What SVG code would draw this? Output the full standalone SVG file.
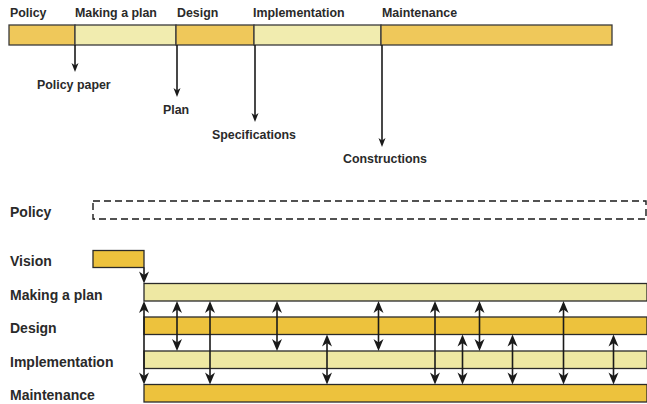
<svg xmlns="http://www.w3.org/2000/svg" xmlns:xlink="http://www.w3.org/1999/xlink" width="647" height="404" viewBox="0 0 647 404">
<defs>
<style>
text{font-family:"Liberation Sans",Arial,sans-serif;font-weight:bold;fill:#2a2a2a}
.t{font-size:12.4px}
.b{font-size:14px}
.or{fill:#EDC23D;stroke:#2a2a2a;stroke-width:1.3}
.lt{fill:#EEE8A3;stroke:#2a2a2a;stroke-width:1.3}
.or1{fill:#EFC85A;stroke:#3a3a3a;stroke-width:1.3}
.lt1{fill:#F1ECAF;stroke:#3a3a3a;stroke-width:1.3}
.ln{stroke:#1a1a1a;stroke-width:1.6;fill:none}
.dash{fill:none;stroke:#1a1a1a;stroke-width:1.4;stroke-dasharray:7,4}
.hd{fill:#1a1a1a}
</style>
<path id="dn" class="hd" d="M0,0 L-5,-12 L0,-8.5 L5,-12 Z"/>
<path id="up" class="hd" d="M0,0 L-5,12 L0,8.5 L5,12 Z"/>
<path id="sdn" class="hd" d="M0,0 L-3.5,-9 L0,-6.5 L3.5,-9 Z"/>
</defs>
<rect width="647" height="404" fill="#fff"/>

<!-- Top timeline -->
<g id="top-bar">
<rect class="or1" x="9" y="25" width="66" height="20"/>
<rect class="lt1" x="75" y="25" width="101" height="20"/>
<rect class="or1" x="176" y="25" width="78" height="20"/>
<rect class="lt1" x="254" y="25" width="127" height="20"/>
<rect class="or1" x="381" y="25" width="231" height="20"/>
</g>
<g id="top-labels">
<text class="t" x="10" y="17">Policy</text>
<text class="t" x="75" y="17">Making a plan</text>
<text class="t" x="177" y="17">Design</text>
<text class="t" x="253" y="17">Implementation</text>
<text class="t" x="382" y="17">Maintenance</text>
</g>
<g id="top-connectors">
<line class="ln" x1="75" y1="45" x2="75" y2="68"/>
<use href="#sdn" xlink:href="#sdn" x="75" y="72"/>
<line class="ln" x1="177" y1="45" x2="177" y2="93"/>
<use href="#sdn" xlink:href="#sdn" x="177" y="97"/>
<line class="ln" x1="255" y1="45" x2="255" y2="118"/>
<use href="#sdn" xlink:href="#sdn" x="255" y="122"/>
<line class="ln" x1="382" y1="45" x2="382" y2="143"/>
<use href="#sdn" xlink:href="#sdn" x="382" y="147"/>
</g>
<g id="top-outputs">
<text class="t" x="37" y="89">Policy paper</text>
<text class="t" x="163" y="114">Plan</text>
<text class="t" x="212" y="139">Specifications</text>
<text class="t" x="343" y="163">Constructions</text>
</g>

<!-- Bottom diagram -->
<g id="policy"><rect class="dash" x="93" y="201" width="553" height="18"/></g>
<g id="vision"><rect class="or" x="93" y="250.5" width="51" height="17"/></g>
<g id="making-a-plan"><rect class="lt" x="144" y="283.5" width="503" height="17.5"/></g>
<g id="design"><rect class="or" x="144" y="317" width="503" height="17.5"/></g>
<g id="implementation"><rect class="lt" x="144" y="351" width="503" height="17.5"/></g>
<g id="maintenance"><rect class="or" x="144" y="384.5" width="503" height="17.5"/></g>

<g id="bottom-labels">
<text class="b" x="10" y="217">Policy</text>
<text class="b" x="10" y="266">Vision</text>
<text class="b" x="10" y="300">Making a plan</text>
<text class="b" x="10" y="333">Design</text>
<text class="b" x="10" y="367">Implementation</text>
<text class="b" x="10" y="400">Maintenance</text>
</g>

<g id="connectors">
<line class="ln" x1="144" y1="267.5" x2="144" y2="280"/>
<use href="#dn" xlink:href="#dn" x="144" y="283.5"/>
<line class="ln" x1="144" y1="304" x2="144" y2="381"/>
<use href="#up" xlink:href="#up" x="144" y="301"/>
<use href="#dn" xlink:href="#dn" x="144" y="384.5"/>

<line class="ln" x1="177" y1="304" x2="177" y2="348"/>
<use href="#up" xlink:href="#up" x="177" y="301"/><use href="#dn" xlink:href="#dn" x="177" y="351"/>
<line class="ln" x1="210" y1="304" x2="210" y2="381"/>
<use href="#up" xlink:href="#up" x="210" y="301"/><use href="#dn" xlink:href="#dn" x="210" y="384.5"/>
<line class="ln" x1="277" y1="304" x2="277" y2="348"/>
<use href="#up" xlink:href="#up" x="277" y="301"/><use href="#dn" xlink:href="#dn" x="277" y="351"/>
<line class="ln" x1="327" y1="338" x2="327" y2="381"/>
<use href="#up" xlink:href="#up" x="327" y="334.5"/><use href="#dn" xlink:href="#dn" x="327" y="384.5"/>
<line class="ln" x1="378.5" y1="304" x2="378.5" y2="348"/>
<use href="#up" xlink:href="#up" x="378.5" y="301"/><use href="#dn" xlink:href="#dn" x="378.5" y="351"/>
<line class="ln" x1="435" y1="304" x2="435" y2="381"/>
<use href="#up" xlink:href="#up" x="435" y="301"/><use href="#dn" xlink:href="#dn" x="435" y="384.5"/>
<line class="ln" x1="462.5" y1="338" x2="462.5" y2="381"/>
<use href="#up" xlink:href="#up" x="462.5" y="334.5"/><use href="#dn" xlink:href="#dn" x="462.5" y="384.5"/>
<line class="ln" x1="479.5" y1="304" x2="479.5" y2="348"/>
<use href="#up" xlink:href="#up" x="479.5" y="301"/><use href="#dn" xlink:href="#dn" x="479.5" y="351"/>
<line class="ln" x1="512.5" y1="338" x2="512.5" y2="381"/>
<use href="#up" xlink:href="#up" x="512.5" y="334.5"/><use href="#dn" xlink:href="#dn" x="512.5" y="384.5"/>
<line class="ln" x1="563.5" y1="304" x2="563.5" y2="381"/>
<use href="#up" xlink:href="#up" x="563.5" y="301"/><use href="#dn" xlink:href="#dn" x="563.5" y="384.5"/>
<line class="ln" x1="613.5" y1="338" x2="613.5" y2="381"/>
<use href="#up" xlink:href="#up" x="613.5" y="334.5"/><use href="#dn" xlink:href="#dn" x="613.5" y="384.5"/>
</g>
</svg>
